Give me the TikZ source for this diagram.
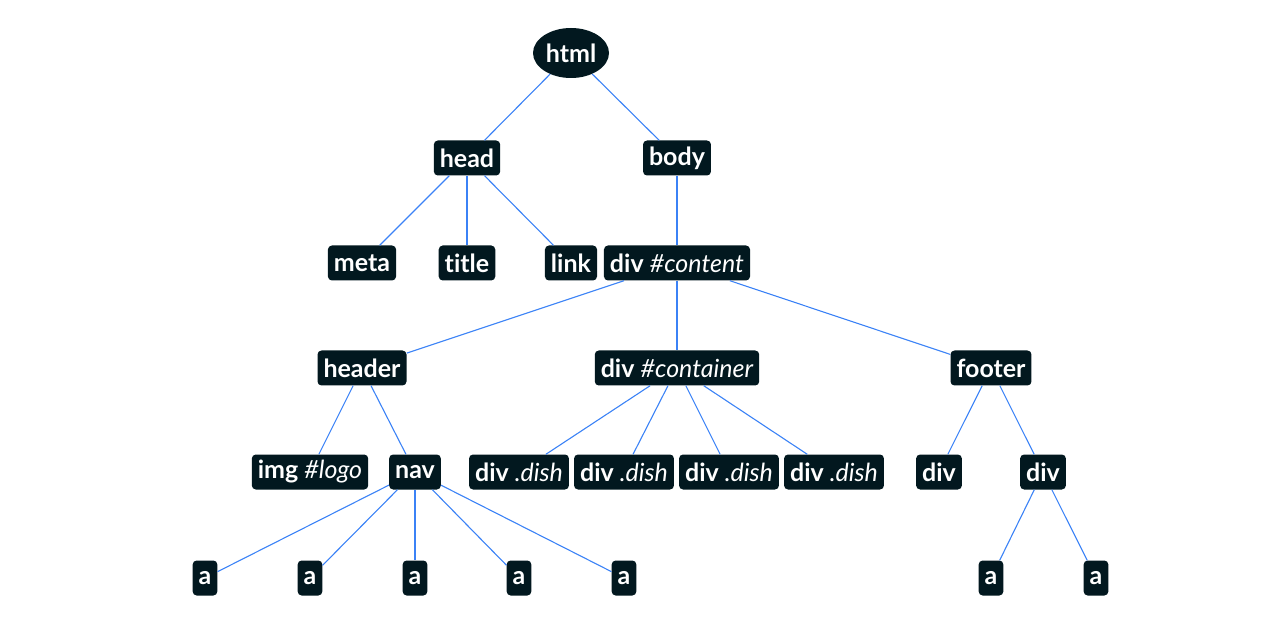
\documentclass[tikz,border=0pt]{standalone}
\usepackage{fontspec}
\setmainfont[Ligatures=NoCommon]{Lato}
\usetikzlibrary{shapes.geometric}
\definecolor{nodebg}{HTML}{02181F}
\definecolor{edge}{HTML}{3B82F6}
\newcommand{\att}[1]{{\mdseries\itshape #1}}
\begin{document}
\begin{tikzpicture}[x=1pt,y=-1pt,
  tag/.style={fill=nodebg, text=white, rounded corners=4pt, inner xsep=6pt,
    inner ysep=0pt, minimum height=35pt, font=\fontsize{25}{30}\selectfont\bfseries},
  root/.style={ellipse, fill=nodebg, text=white, minimum width=76pt, minimum height=50pt,
    inner sep=0pt, font=\fontsize{25}{30}\selectfont\bfseries},
  link/.style={draw=edge, line width=1.1pt}]
\useasboundingbox (0,0) rectangle (1286,620);
% level 0
\node[root] (html) at (571,53) {html};
% level 1
\node[tag] (head) at (467,158) {head};
\node[tag] (body) at (677,158) {body};
% level 2
\node[tag] (meta) at (362,263) {meta};
\node[tag] (title) at (467,263) {title};
\node[tag] (lnk) at (571,263) {link};
\node[tag] (content) at (677,263) {div \att{\#content}};
% level 3
\node[tag] (header) at (362,368) {header};
\node[tag] (container) at (677,368) {div \att{\#container}};
\node[tag] (footer) at (991,368) {footer};
% level 4
\node[tag] (logo) at (310,472) {img \att{\#logo}};
\node[tag] (nav) at (415,472) {nav};
\node[tag] (dish1) at (519,472) {div \att{.dish}};
\node[tag] (dish2) at (624,472) {div \att{.dish}};
\node[tag] (dish3) at (729,472) {div \att{.dish}};
\node[tag] (dish4) at (834,472) {div \att{.dish}};
\node[tag] (fdiv1) at (939,472) {div};
\node[tag] (fdiv2) at (1043,472) {div};
% level 5
\node[tag] (a1) at (205,578) {a};
\node[tag] (a2) at (310,578) {a};
\node[tag] (a3) at (415,578) {a};
\node[tag] (a4) at (519,578) {a};
\node[tag] (a5) at (624,578) {a};
\node[tag] (a6) at (991,578) {a};
\node[tag] (a7) at (1096,578) {a};
% connectors
\foreach \p/\c in {html/head, html/body,
  head/meta, head/title, head/lnk, body/content,
  content/header, content/container, content/footer,
  header/logo, header/nav,
  container/dish1, container/dish2, container/dish3, container/dish4,
  footer/fdiv1, footer/fdiv2,
  nav/a1, nav/a2, nav/a3, nav/a4, nav/a5,
  fdiv2/a6, fdiv2/a7}
  \draw[link] (\p) -- (\c);
\end{tikzpicture}
\end{document}
